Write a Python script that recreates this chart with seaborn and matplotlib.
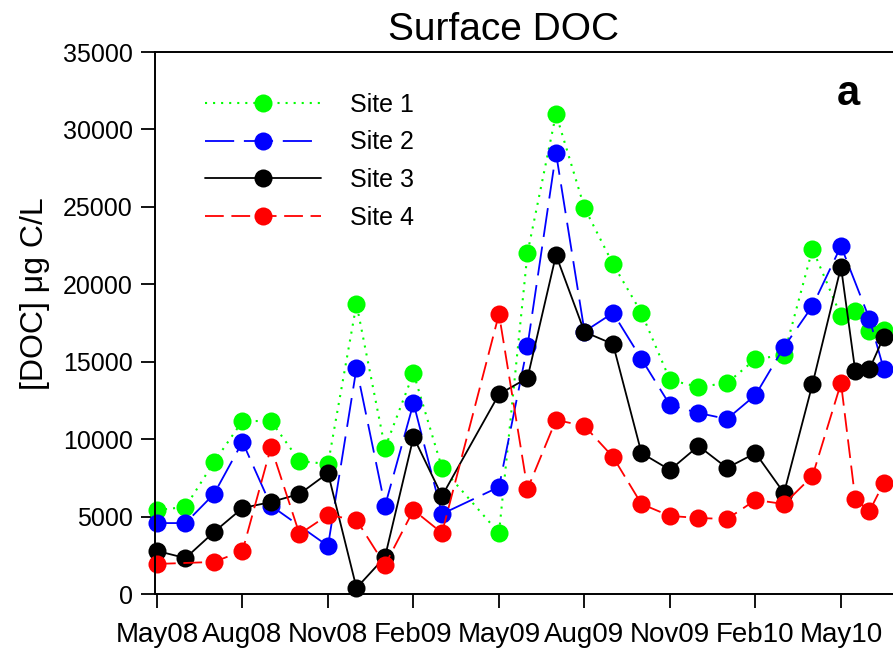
import matplotlib
matplotlib.use("Agg")
import matplotlib.pyplot as plt
import numpy as np
import pandas as pd
import seaborn as sns

# Sampling times, in months since May 2008 (no samples in April 2009,
# twice-monthly samples from May 2010 on)
months = [0, 1, 2, 3, 4, 5, 6, 7, 8, 9, 10, 12, 13, 14, 15, 16, 17, 18,
          19, 20, 21, 22, 23, 24, 24.5, 25, 25.5]

site1 = [5420, 5620, 8520, 11170, 11170, 8590, 8390, 18730, 9430, 14270,
         8140, 3940, 22020, 31000, 24930, 21310, 18150, 13820, 13370, 13620,
         15170, 15430, 22280, 17950, 18270, 16980, 17050]
site2 = [4580, 4580, 6460, 9820, 5700, None, 3100, 14590, 5680, 12330,
         5170, 6910, 16010, 28480, 16950, 18150, 15170, 12200, 11690, 11300,
         12850, 15950, 18600, 22470, None, 17760, 14530]
site3 = [2780, 2320, 4000, 5550, 5940, 6460, 7810, 390, 2390, 10140,
         6330, 12900, 13950, 21890, 16920, 16140, 9100, 8010, 9560, 8140,
         9100, 6520, 13560, 21120, 14400, 14530, 16600]
site4 = [1940, None, 2070, 2780, 9490, 3870, 5100, 4780, 1870, 5420,
         3940, 18080, 6780, 11240, 10850, 8850, 5810, 5040, 4910, 4840,
         6070, 5810, 7620, 13620, 6130, 5360, 7170]

site_names = ["Site 1", "Site 2", "Site 3", "Site 4"]
tick_months = [0, 3, 6, 9, 12, 15, 18, 21, 24]
tick_labels = ["May08", "Aug08", "Nov08", "Feb09", "May09", "Aug09",
               "Nov09", "Feb10", "May10"]
y_ticks = [0, 5000, 10000, 15000, 20000, 25000, 30000, 35000]

frames = []
for name, vals in zip(site_names, [site1, site2, site3, site4]):
    frames.append(pd.DataFrame({"month": months, "doc": vals, "site": name}))
df = pd.concat(frames, ignore_index=True).dropna()

sns.set_style("ticks")
plt.rcParams["font.family"] = ["Liberation Sans", "DejaVu Sans"]
plt.rcParams["lines.scale_dashes"] = False
for key in ["text.color", "axes.labelcolor", "xtick.color", "ytick.color",
            "axes.edgecolor"]:
    plt.rcParams[key] = "black"

styles = {
    "Site 1": dict(color="#00ff00", linestyle=(0, (1.5, 4.3)), linewidth=1.5),
    "Site 2": dict(color="#0000ff", linestyle=(0, (21, 7)), linewidth=1.3),
    "Site 3": dict(color="#000000", linestyle="-", linewidth=1.3),
    "Site 4": dict(color="#ff0000", linestyle=(0, (13.5, 5.5)), linewidth=1.3),
}

W, H = 893, 652
fig = plt.figure(figsize=(W / 100, H / 100), dpi=100)
x_left_px, x_right_px = 155, 926.5
ax = fig.add_axes([x_left_px / W, 58 / H, (x_right_px - x_left_px) / W, 542 / H])

for name in site_names:
    sub = df[df["site"] == name]
    sns.lineplot(data=sub, x="month", y="doc", ax=ax, label=name,
                 marker="o", markersize=13, markeredgewidth=0,
                 estimator=None, sort=False, clip_on=False,
                 **styles[name])

ax.set_xlim(-0.07, 27)
ax.set_ylim(0, 35000)
ax.set_xticks(tick_months)
ax.set_xticklabels(tick_labels)
ax.set_yticks(y_ticks)
ax.set_yticklabels([str(v) for v in y_ticks])
ax.set_xlabel("")
ax.set_ylabel("")

for side in ["left", "bottom", "top"]:
    ax.spines[side].set_linewidth(1.4)
    ax.spines[side].set_color("black")
ax.spines["right"].set_visible(False)

ax.tick_params(axis="both", direction="out", length=10, width=1.3,
               color="black", labelcolor="black", top=False, right=False)
ax.tick_params(axis="x", labelsize=20, pad=10)
ax.tick_params(axis="y", labelsize=18, pad=6)

fig.text(503 / W, 1 - 30 / H, "Surface DOC", ha="center", va="center",
         fontsize=28)
fig.text(35 / W, 1 - 294 / H, "[DOC] μg C/L", rotation=90, ha="center",
         va="center", fontsize=23)
fig.text(848 / W, 1 - 94 / H, "a", ha="center", va="center",
         fontsize=30, fontweight="bold")

leg = ax.legend(loc="upper left", bbox_to_anchor=(205 / W, 1 - 92.5 / H),
                bbox_transform=fig.transFigure, frameon=False, fontsize=18,
                handlelength=4.64, handletextpad=1.15, labelspacing=0.55,
                borderpad=0, borderaxespad=0, numpoints=1)
for t in leg.get_texts():
    t.set_color("black")

fig.savefig("out.png", dpi=100)
